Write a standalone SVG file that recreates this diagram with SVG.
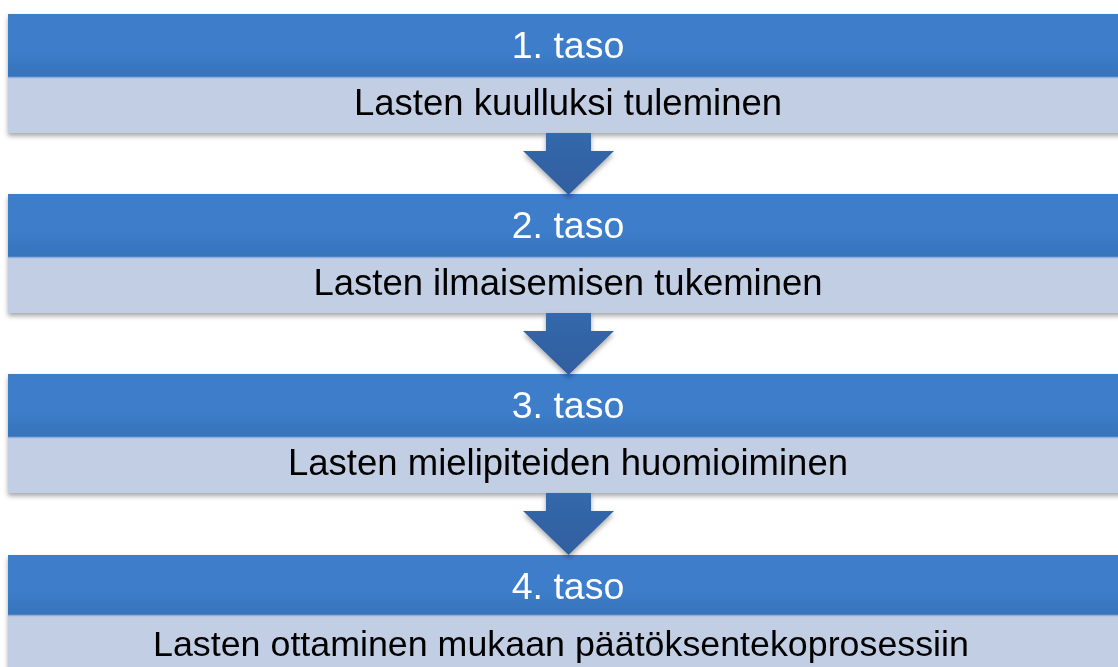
<svg xmlns="http://www.w3.org/2000/svg" width="1118" height="667" viewBox="0 0 1118 667">
<style>
.hd{fill:url(#gh);}
.bd{fill:#C2CEE4;}
.sep{stroke:#8DAEDD;stroke-width:1.5;}
.ht{font-family:"Liberation Sans",Arial,sans-serif;font-size:37.5px;fill:#FFFFFF;text-anchor:middle;}
.bt{font-family:"Liberation Sans",Arial,sans-serif;font-size:36.5px;fill:#000000;text-anchor:middle;}
.ar{fill:url(#ga);filter:url(#sh);}
</style>
<defs>
<linearGradient id="gh" x1="0" y1="0" x2="0" y2="1">
<stop offset="0" stop-color="#3C7DCA"/>
<stop offset="0.6" stop-color="#3C7DCA"/>
<stop offset="1" stop-color="#3673BA"/>
</linearGradient>
<linearGradient id="ga" x1="0" y1="0" x2="0" y2="1">
<stop offset="0" stop-color="#3468AC"/>
<stop offset="1" stop-color="#2F5F9F"/>
</linearGradient>
<filter id="sh" x="-20%" y="-20%" width="140%" height="160%">
<feDropShadow dx="0" dy="3" stdDeviation="2.5" flood-color="#000" flood-opacity="0.35"/>
</filter>
</defs>
<g id="level1" filter="url(#sh)">
<rect class="hd" x="8" y="14" width="1115" height="63"/>
<rect class="bd" x="8" y="77" width="1115" height="56"/>
<line class="sep" x1="8" y1="77.5" x2="1118" y2="77.5"/>
<text class="ht" x="568" y="58">1. taso</text>
<text class="bt" x="568" y="115">Lasten kuulluksi tuleminen</text>
</g>
<g id="level2" filter="url(#sh)">
<rect class="hd" x="8" y="194" width="1115" height="63"/>
<rect class="bd" x="8" y="257" width="1115" height="56"/>
<line class="sep" x1="8" y1="257.5" x2="1118" y2="257.5"/>
<text class="ht" x="568" y="238">2. taso</text>
<text class="bt" x="568" y="295">Lasten ilmaisemisen tukeminen</text>
</g>
<g id="level3" filter="url(#sh)">
<rect class="hd" x="8" y="374" width="1115" height="63"/>
<rect class="bd" x="8" y="437" width="1115" height="56"/>
<line class="sep" x1="8" y1="437.5" x2="1118" y2="437.5"/>
<text class="ht" x="568" y="418">3. taso</text>
<text class="bt" x="568" y="475">Lasten mielipiteiden huomioiminen</text>
</g>
<g id="level4" filter="url(#sh)">
<rect class="hd" x="8" y="555" width="1115" height="60"/>
<rect class="bd" x="8" y="615" width="1115" height="60"/>
<line class="sep" x1="8" y1="615.5" x2="1118" y2="615.5"/>
<text class="ht" x="568" y="599">4. taso</text>
<text class="bt" x="561" y="656" style="font-size:35.8px">Lasten ottaminen mukaan päätöksentekoprosessiin</text>
</g>
<g id="connectors">
<polygon class="ar" points="546,133 591,133 591,151 614,151 568.5,195 523,151 546,151"/>
<polygon class="ar" points="546,313 591,313 591,331 614,331 568.5,375 523,331 546,331"/>
<polygon class="ar" points="546,493 591,493 591,511 614,511 568.5,555 523,511 546,511"/>
</g>
</svg>
